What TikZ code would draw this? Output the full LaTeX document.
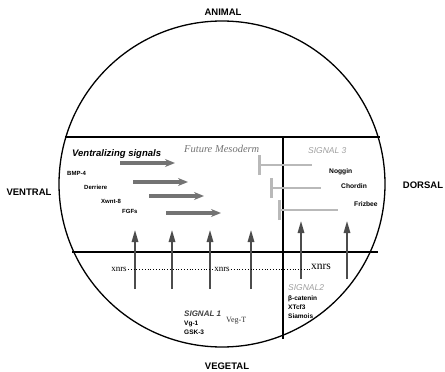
\documentclass[tikz,border=0pt]{standalone}
\usepackage{fontspec}
\setmainfont{Liberation Serif}
\setsansfont{Liberation Sans}
\usetikzlibrary{arrows.meta}
\tikzset{
  pole/.style={inner sep=0pt, font=\sffamily\bfseries\fontsize{9.5}{11}\selectfont},
  gene/.style={anchor=west, inner sep=0pt, font=\sffamily\bfseries\fontsize{6}{7}\selectfont},
  dgene/.style={gene, font=\sffamily\bfseries\fontsize{6.7}{8}\selectfont},
  signal/.style={anchor=west, inner sep=0pt, text=gray!75, font=\sffamily\itshape\fontsize{8.5}{10}\selectfont},
  ventarrow/.style={line width=3.5pt, black!55, -{Stealth[length=10pt,width=8pt]}},
  uparrow/.style={line width=2.7pt, black!70, -{Triangle[length=13pt,width=6pt]}},
  tbar/.style={line width=2.5pt, gray!55, {Bar[width=20pt]}-},
  xnrs/.style={inner sep=1pt, font=\fontsize{9}{10}\selectfont}
}
\begin{document}
\begin{tikzpicture}[x=1pt,y=-1pt]
\useasboundingbox (0,0) rectangle (445,372);
% embryo and its regions
\draw[line width=1.3pt] (222,184) circle (163);
\draw[line width=1.8pt] (65,137) -- (380,137);
\draw[line width=1.8pt] (72,252) -- (378,252);
\draw[line width=1.3pt] (283,137) -- (283,339);
% poles
\node[pole] (animal) at (223,12) {ANIMAL};
\node[pole] (vegetal) at (227,366) {VEGETAL};
\node[pole] (ventral) at (29,192) {VENTRAL};
\node[pole] (dorsal) at (423,185) {DORSAL};
% ventral side
\node[anchor=west, inner sep=0pt, font=\sffamily\bfseries\itshape\fontsize{9.5}{11}\selectfont] (vsig) at (72,154) {Ventralizing signals};
\node[anchor=west, inner sep=0pt, text=black!55, font=\itshape\fontsize{10.5}{12}\selectfont] (meso) at (184,149) {Future Mesoderm};
\node[gene] (bmp) at (67,173) {BMP-4};
\node[gene] (derriere) at (84,187) {Derriere};
\node[gene] (xwnt) at (101,201) {Xwnt-8};
\node[gene] (fgf) at (122,211) {FGFs};
\draw[ventarrow] (120,163) -- (175,163);
\draw[ventarrow] (133,182) -- (188,182);
\draw[ventarrow] (149,196) -- (204,196);
\draw[ventarrow] (166,213) -- (221,213);
% dorsal side
\node[signal] (sig3) at (308,151) {SIGNAL 3};
\node[dgene] (noggin) at (329,172) {Noggin};
\node[dgene] (chordin) at (341,186) {Chordin};
\node[dgene] (frizbee) at (354,204) {Frizbee};
\draw[tbar] (258,165) -- (312,165);
\draw[tbar] (270,188) -- (321,188);
\draw[tbar] (278,210) -- (338,210);
% vegetal signals
\foreach \x in {135,172,210,251}
  \draw[uparrow] (\x,289) -- (\x,229);
\foreach \x in {301,347}
  \draw[uparrow] (\x,279) -- (\x,220);
\node[xnrs] (xn1) at (119,269) {xnrs};
\node[xnrs] (xn2) at (222,269) {xnrs};
\node[xnrs, font=\fontsize{11.5}{12}\selectfont] (xn3) at (321,267) {xnrs};
\draw[line width=0.8pt, dotted] (xn1.east) -- (xn2.west);
\draw[line width=0.8pt, dotted] (xn2.east) -- (xn3.west |- xn2.east);
\node[anchor=west, inner sep=0pt, text=black!75, font=\sffamily\bfseries\itshape\fontsize{8}{9}\selectfont] (sig1) at (184,314) {SIGNAL 1};
\node[gene, font=\sffamily\bfseries\fontsize{6.5}{7}\selectfont] (vg) at (184,324) {Vg-1};
\node[gene, font=\sffamily\bfseries\fontsize{6.5}{7}\selectfont] (gsk) at (184,332) {GSK-3};
\node[anchor=west, inner sep=0pt, text=black!80, font=\fontsize{8}{9}\selectfont] (vegt) at (226,321) {Veg-T};
\node[signal] (sig2) at (288,288) {SIGNAL2};
\node[gene, font=\sffamily\bfseries\fontsize{6.5}{7}\selectfont] (bcat) at (288,299) {β-catenin};
\node[gene, font=\sffamily\bfseries\fontsize{6.5}{7}\selectfont] (xtcf) at (288,307) {XTcf3};
\node[gene, font=\sffamily\bfseries\fontsize{6.5}{7}\selectfont] (siamois) at (288,316) {Siamois};
\end{tikzpicture}
\end{document}
